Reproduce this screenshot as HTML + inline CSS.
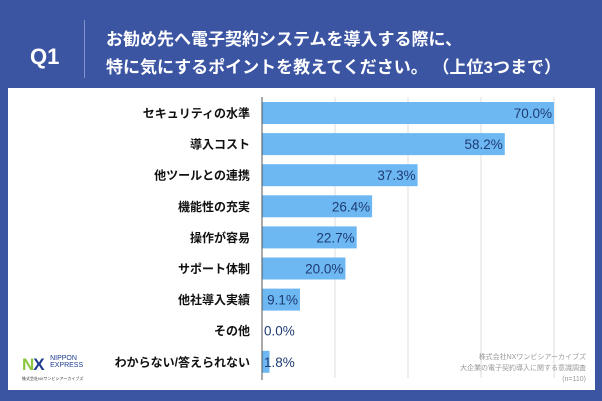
<!DOCTYPE html>
<html><head><meta charset="utf-8"><style>
body{margin:0;width:602px;height:401px;background:#3b55a3;overflow:hidden;font-family:"Liberation Sans","Noto Sans CJK JP",sans-serif;}
#root{position:relative;width:602px;height:401px;}
.t{position:absolute;color:#fff;font-weight:bold;}
</style></head><body>
<div id="root">
<div class="t" style="left:30px;top:44px;font-size:22px;">Q1</div>
<div style="position:absolute;left:84px;top:20px;width:1px;height:58px;background:#8193c9"></div>
<div class="t" style="left:106px;top:26px;font-size:17px;line-height:28px;white-space:nowrap">お勧め先へ電子契約システムを導入する際に、<br>特に気にするポイントを教えてください。 （上位3つまで）</div>
<div style="position:absolute;left:8px;top:88px;width:587px;height:302px;background:#fff"></div>
<svg id="svg" width="602" height="401" style="position:absolute;left:0;top:0"></svg>
<div style="position:absolute;left:22px;top:355px;">
<span style="font:bold 17px 'Liberation Sans',sans-serif;color:#8cc63f;letter-spacing:-1px">N<span style="color:#1d3c8f">X</span></span>
<span style="display:inline-block;vertical-align:top;font:7px 'Liberation Sans',sans-serif;color:#1d3c8f;line-height:7px;margin-left:2px">NIPPON<br>EXPRESS</span>
<div style="font-size:4px;color:#333;margin-top:1px">株式会社NXワンビシアーカイブズ</div></div>
<div style="position:absolute;right:16px;top:352px;text-align:right;font-size:7px;line-height:11px;color:#999">株式会社NXワンビシアーカイブズ<br>大企業の電子契約導入に関する意識調査<br>(n=110)</div>
</div>
<script>
const categories=["セキュリティの水準","導入コスト","他ツールとの連携","機能性の充実","操作が容易","サポート体制","他社導入実績","その他","わからない/答えられない"];
const values=[70.0,58.2,37.3,26.4,22.7,20.0,9.1,0.0,1.8];
const gridTicks=[0,17.5,35,52.5,70];
const svg=document.getElementById('svg');const NS='http://www.w3.org/2000/svg';
const x0=262,x1=554,vmax=70;const xs=v=>x0+(x1-x0)*v/vmax;
const y0=102,step=31.1,bh=22;const ys=i=>y0+i*step;
function mk(t,a){const e=document.createElementNS(NS,t);for(const k in a)e.setAttribute(k,a[k]);svg.appendChild(e);return e;}
gridTicks.forEach((g,i)=>{if(i==0)return;const l=mk('line',{x1:xs(g),x2:xs(g),y1:97,y2:378,stroke:'#ddd','stroke-width':1});

});
categories.forEach((c,i)=>{const v=values[i];
const r=mk('rect',{x:x0,y:ys(i),width:xs(v)-x0,height:bh,fill:'#6db8f2'});


const lb=mk('text',{x:250,y:ys(i)+bh/2+4.5,'text-anchor':'end','font-size':12,'font-weight':'bold',fill:'#111'});lb.textContent=c;


const big=v>5;const tv=mk('text',{x:big?xs(v)-2:x0+2,y:ys(i)+bh/2+5,'text-anchor':big?'end':'start','font-size':13.5,fill:'#1f3b73'});tv.textContent=v.toFixed(1)+'%';

});
const ax=mk('line',{x1:x0,x2:x0,y1:97,y2:380,stroke:'#555','stroke-width':1});


</script>
</body></html>
